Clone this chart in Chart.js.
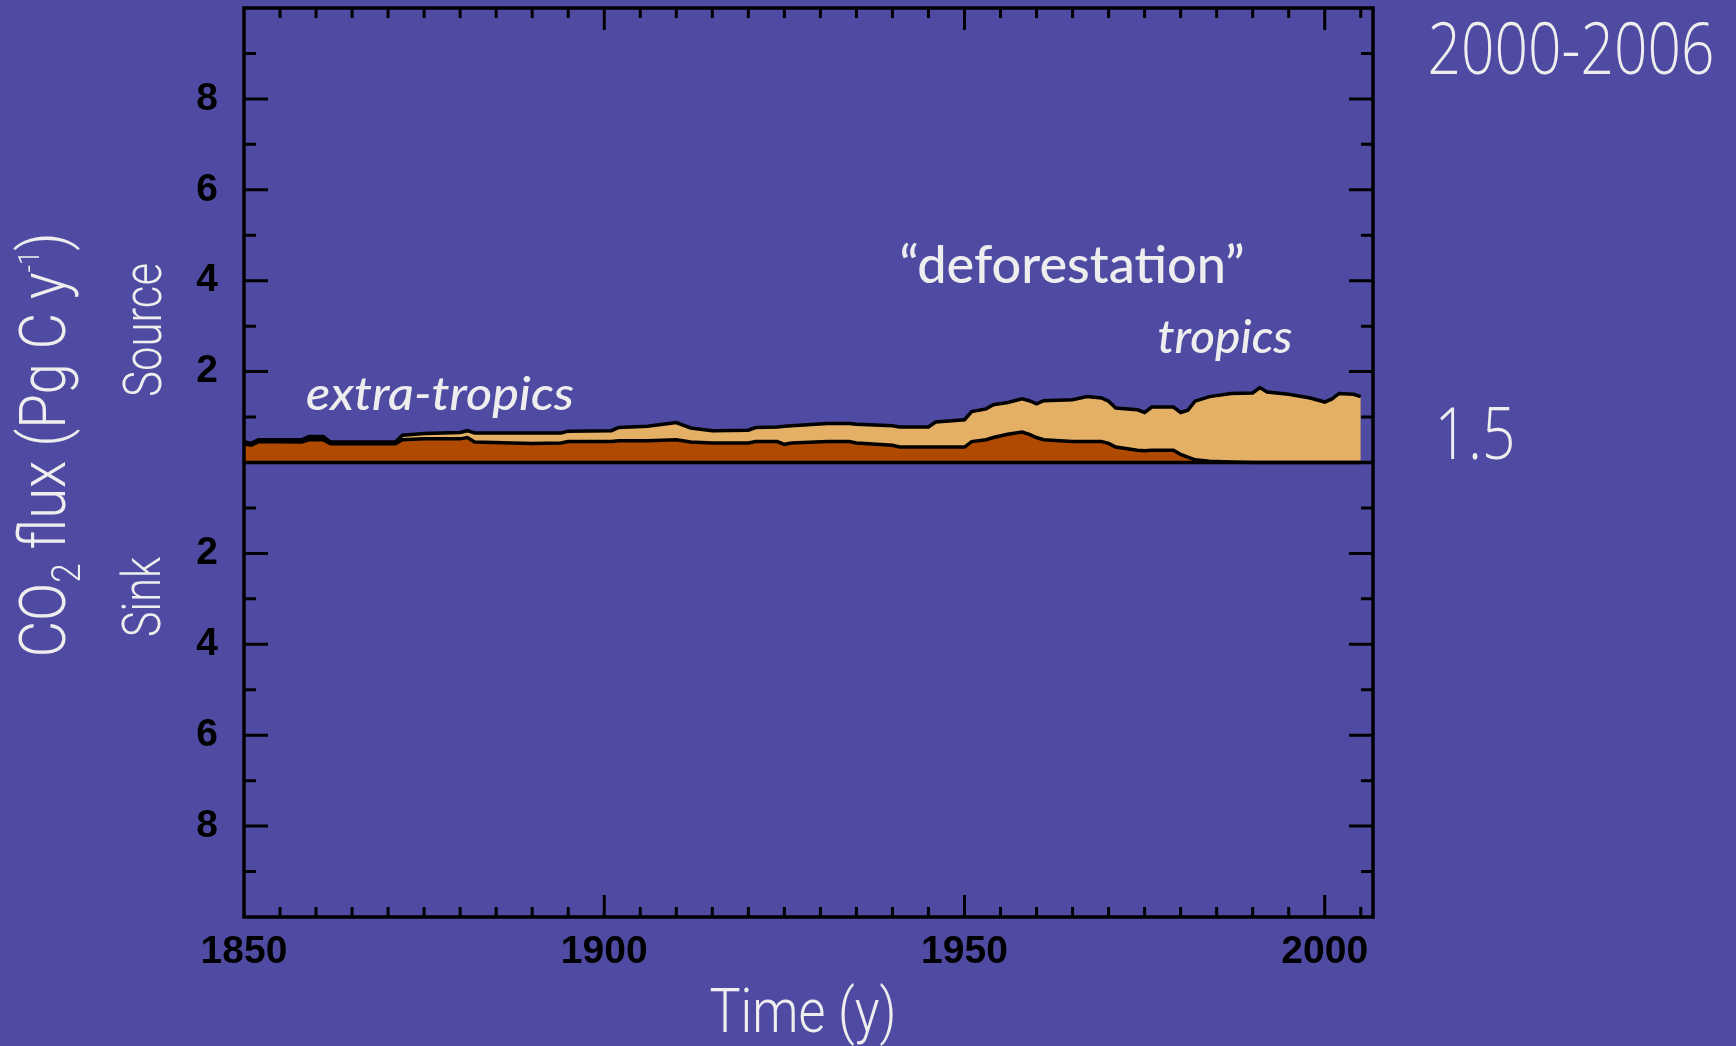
<!DOCTYPE html>
<html>
<head>
    <title>Land-use change CO2 flux</title>
    <script src="https://cdn.jsdelivr.net/npm/chart.js@4"></script>
    <style>
        html, body { margin: 0; padding: 0; background: #4F4BA3; overflow: hidden; }
        #wrap { width: 1736px; height: 1046px; }
    </style>
</head>
<body>
    <div id="wrap"><canvas id="fluxChart" width="1736" height="1046"></canvas></div>

    <script>
        // values (Pg C / year)
        var years = [1850, 1851, 1852, 1858, 1859, 1861, 1862, 1871, 1872, 1875,
                     1880, 1881, 1882, 1890, 1894, 1895, 1901, 1902, 1906, 1910,
                     1912, 1915, 1920, 1921, 1924, 1925, 1926, 1931, 1934, 1935,
                     1940, 1941, 1945, 1946, 1950, 1951, 1953, 1954, 1956, 1958,
                     1959, 1960, 1961, 1965, 1967, 1969, 1970, 1971, 1974, 1975,
                     1976, 1979, 1980, 1981, 1982, 1984, 1987, 1990, 1991, 1992,
                     1995, 1998, 2000, 2001, 2002, 2004, 2005];

        var extraTropics = [0.41, 0.38, 0.46, 0.45, 0.50, 0.50, 0.41, 0.41, 0.50, 0.52,
                            0.52, 0.55, 0.45, 0.42, 0.43, 0.46, 0.46, 0.48, 0.48, 0.50,
                            0.45, 0.43, 0.43, 0.46, 0.46, 0.40, 0.43, 0.46, 0.46, 0.43,
                            0.38, 0.34, 0.34, 0.34, 0.34, 0.46, 0.50, 0.55, 0.62, 0.67,
                            0.62, 0.55, 0.50, 0.46, 0.46, 0.46, 0.42, 0.34, 0.27, 0.26,
                            0.27, 0.27, 0.18, 0.12, 0.06, 0.03, 0.01, 0, 0, 0,
                            0, 0, 0, 0, 0, 0, 0];

        var tropics = [0.05, 0.04, 0.04, 0.05, 0.07, 0.07, 0.04, 0.04, 0.10, 0.12,
                       0.14, 0.15, 0.20, 0.23, 0.22, 0.23, 0.24, 0.29, 0.32, 0.38,
                       0.31, 0.27, 0.28, 0.31, 0.32, 0.40, 0.38, 0.40, 0.40, 0.41,
                       0.43, 0.44, 0.44, 0.55, 0.60, 0.66, 0.68, 0.72, 0.70, 0.73,
                       0.74, 0.74, 0.86, 0.92, 0.99, 0.96, 0.93, 0.86, 0.89, 0.84,
                       0.95, 0.95, 0.92, 1.03, 1.29, 1.42, 1.51, 1.53, 1.65, 1.55,
                       1.50, 1.42, 1.33, 1.40, 1.52, 1.50, 1.45];

        var yearTicks = [1850, 1900, 1950, 2000];
        var fluxTicks = [-8, -6, -4, -2, 2, 4, 6, 8];

        var BG = '#4F4BA3';
        var TXT = '#EEEEEE';
        var thinFont = 'Roboto, "Liberation Sans Narrow", sans-serif';
        var humanFont = '"Open Sans", Lato, sans-serif';
        var handFont = 'Lato, "Noto Sans", sans-serif';

        function toPoints(vals) {
            return years.map(function (y, i) { return { x: y, y: vals[i] }; });
        }

        // draw text squeezed/stretched to a given width
        function fitText(ctx, text, font, x, y, width, rot) {
            ctx.save();
            ctx.font = font;
            var w = ctx.measureText(text).width;
            ctx.translate(x, y);
            if (rot) ctx.rotate(rot);
            ctx.scale(width / w, 1);
            ctx.textAlign = 'center';
            ctx.textBaseline = 'alphabetic';
            ctx.fillText(text, 0, 0);
            ctx.restore();
        }

        var decorations = {
            id: 'decorations',
            beforeDraw: function (chart) {
                var ctx = chart.ctx;
                ctx.save();
                ctx.fillStyle = BG;
                ctx.fillRect(0, 0, chart.width, chart.height);
                ctx.restore();
            },
            afterDatasetsDraw: function (chart) {
                var ctx = chart.ctx, a = chart.chartArea;
                var xs = chart.scales.x, ys = chart.scales.y;
                ctx.save();
                ctx.strokeStyle = '#000';
                ctx.lineWidth = 3.5;
                ctx.lineCap = 'butt';

                // zero line
                var y0 = ys.getPixelForValue(0);
                ctx.beginPath();
                ctx.moveTo(a.left, y0);
                ctx.lineTo(a.right, y0);
                ctx.stroke();

                // inward ticks, left and right
                ctx.lineWidth = 3;
                for (var v = -9; v <= 9; v++) {
                    if (v === 0) continue;
                    var py = ys.getPixelForValue(v);
                    var len = (v % 2 === 0) ? 24 : 12;
                    ctx.beginPath();
                    ctx.moveTo(a.left, py); ctx.lineTo(a.left + len, py);
                    ctx.moveTo(a.right, py); ctx.lineTo(a.right - len, py);
                    ctx.stroke();
                }
                // inward ticks, top and bottom
                for (var yr = 1855; yr <= 2005; yr += 5) {
                    var px = xs.getPixelForValue(yr);
                    var l = (yr % 50 === 0) ? 22 : 10;
                    ctx.beginPath();
                    ctx.moveTo(px, a.bottom); ctx.lineTo(px, a.bottom - l);
                    ctx.moveTo(px, a.top); ctx.lineTo(px, a.top + l);
                    ctx.stroke();
                }
                // frame
                ctx.lineWidth = 3.5;
                ctx.strokeRect(a.left, a.top, a.right - a.left, a.bottom - a.top);
                ctx.restore();
            },
            afterDraw: function (chart) {
                var ctx = chart.ctx;
                ctx.save();
                ctx.fillStyle = TXT;

                // y axis title with sub/superscripts, rotated
                var size = 64;
                var parts = [
                    { t: 'CO', s: 1, dy: 0 },
                    { t: '2', s: 0.62, dy: 15 },
                    { t: ' flux (Pg C y', s: 1, dy: 0 },
                    { t: '-1', s: 0.45, dy: -26 },
                    { t: ')', s: 1, dy: 0 }
                ];
                var total = 0;
                parts.forEach(function (p) {
                    ctx.font = '300 ' + Math.round(size * p.s) + 'px ' + thinFont;
                    p.w = ctx.measureText(p.t).width;
                    total += p.w;
                });
                var sx = 425 / total;
                ctx.save();
                ctx.translate(65, 445);
                ctx.rotate(-Math.PI / 2);
                ctx.scale(sx, 1);
                ctx.textBaseline = 'alphabetic';
                ctx.textAlign = 'left';
                var cx = -total / 2;
                parts.forEach(function (p) {
                    ctx.font = '300 ' + Math.round(size * p.s) + 'px ' + thinFont;
                    ctx.fillText(p.t, cx, p.dy);
                    cx += p.w;
                });
                ctx.restore();

                fitText(ctx, 'Source', '300 53px ' + thinFont, 161, 330, 134, -Math.PI / 2);
                fitText(ctx, 'Sink', '300 53px ' + thinFont, 160, 597, 80, -Math.PI / 2);
                fitText(ctx, 'Time (y)', '300 62px ' + thinFont, 803, 1032, 187, 0);

                fitText(ctx, '2000-2006', '300 72px ' + humanFont, 1571, 74, 287, 0);
                fitText(ctx, '1.5', '300 72px ' + humanFont, 1475, 459, 81, 0);

                fitText(ctx, '\u201Cdeforestation\u201D', '500 52px ' + handFont, 1072, 283, 345, 0);
                fitText(ctx, 'extra-tropics', 'italic 500 46px ' + handFont, 440, 410, 268, 0);
                fitText(ctx, 'tropics', 'italic 500 46px ' + handFont, 1225, 353, 135, 0);

                ctx.restore();
            }
        };

        var tickFont = { family: '"Liberation Sans", Arial, sans-serif', size: 39, weight: 'bold', lineHeight: 1 };

        var ctx = document.getElementById('fluxChart').getContext('2d');
        var fluxChart = new Chart(ctx, {
            type: 'line',
            data: {
                datasets: [{
                    label: 'extra-tropics',
                    data: toPoints(extraTropics),
                    fill: 'origin',
                    backgroundColor: '#B04A00',
                    borderColor: '#000000',
                    borderWidth: 3.5,
                    pointRadius: 0,
                    tension: 0
                }, {
                    label: 'tropics',
                    data: toPoints(tropics),
                    fill: '-1',
                    backgroundColor: '#E4B066',
                    borderColor: '#000000',
                    borderWidth: 3.5,
                    pointRadius: 0,
                    tension: 0
                }]
            },
            options: {
                responsive: false,
                animation: false,
                devicePixelRatio: 1,
                layout: { padding: { top: 8, right: 363, bottom: 0, left: 0 } },
                plugins: { legend: { display: false }, tooltip: { enabled: false } },
                scales: {
                    x: {
                        type: 'linear',
                        min: 1850,
                        max: 2006.7,
                        grid: { display: false, drawTicks: false },
                        border: { display: false },
                        ticks: {
                            color: '#000', font: tickFont, padding: 16, maxRotation: 0, autoSkip: false,
                            callback: function (v) { return String(v); }
                        },
                        afterBuildTicks: function (scale) {
                            scale.ticks = yearTicks.map(function (v) { return { value: v }; });
                        },
                        afterFit: function (scale) {
                            scale.height = 129;
                            scale.paddingLeft = 0;
                            scale.paddingRight = 0;
                        }
                    },
                    y: {
                        type: 'linear',
                        stacked: true,
                        min: -10,
                        max: 10,
                        grid: { display: false, drawTicks: false },
                        border: { display: false },
                        ticks: {
                            color: '#000', font: tickFont, padding: 26,
                            callback: function (v) { return String(Math.abs(v)); }
                        },
                        afterBuildTicks: function (scale) {
                            scale.ticks = fluxTicks.map(function (v) { return { value: v }; });
                        },
                        afterFit: function (scale) {
                            scale.width = 244;
                            scale.paddingTop = 0;
                            scale.paddingBottom = 0;
                        }
                    }
                }
            },
            plugins: [decorations]
        });
    </script>
</body>
</html>
